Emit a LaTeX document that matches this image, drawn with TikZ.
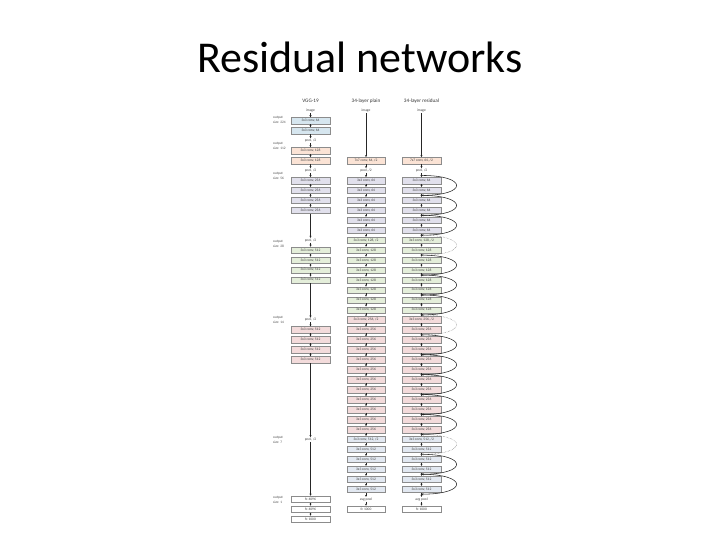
\documentclass[tikz,border=0pt]{standalone}
\usepackage{fontspec}
\setmainfont{Carlito}
\usetikzlibrary{calc, arrows.meta}
\definecolor{convBlue}{RGB}{214,230,239}
\definecolor{convPeach}{RGB}{251,227,213}
\definecolor{convLav}{RGB}{225,224,236}
\definecolor{convGreen}{RGB}{228,238,218}
\definecolor{convPink}{RGB}{243,219,219}
\definecolor{convSky}{RGB}{226,232,241}
\newcommand{\ry}[1]{110.7+9.96*(#1)}

\begin{document}
\begin{tikzpicture}[
  x=1pt, y=-1pt,
  >={Stealth[length=2pt,width=2pt]},
  layer/.style={draw=black!45, line width=0.3pt, minimum width=38.5pt, minimum height=6.5pt,
    inner sep=0pt, font=\fontsize{3.6}{4}\selectfont, text=black!75},
  lbl/.style={inner sep=0.6pt, font=\fontsize{3.6}{4}\selectfont, text=black!75},
  outsize/.style={anchor=west, align=left, inner sep=0pt, font=\fontsize{3.5}{4.3}\selectfont, text=black!70},
  head/.style={font=\fontsize{5.2}{6}\selectfont, text=black!80},
  flow/.style={->, line width=0.6pt, black!85},
  skip/.style={->, line width=0.55pt, black!85},
  skipdim/.style={->, line width=0.45pt, black!60, densely dotted}
]
\useasboundingbox (0,0) rectangle (720,540);
\node[font=\fontsize{44}{50}\selectfont] (title) at (360,57) {Residual networks};

% column heads
\node[head] (hv) at (310.5,101) {VGG-19};
\node[head] (hp) at (366,101) {34-layer plain};
\node[head] (hr) at (421.5,101) {34-layer residual};

% output sizes
\node[outsize] (s224) at (273,120) {output\\size: 224};
\node[outsize] (s112) at (273,146) {output\\size: 112};
\node[outsize] (s56) at (273,176) {output\\size: 56};
\node[outsize] (s28) at (273,244) {output\\size: 28};
\node[outsize] (s14) at (273,320) {output\\size: 14};
\node[outsize] (s7) at (273,440) {output\\size: 7};
\node[outsize] (s1) at (273,500) {output\\size: 1};

% VGG-19
\node[lbl] (v0) at (310.5,{\ry{0}}) {image};
\foreach \i in {1,2} \node[layer, fill=convBlue] (v\i) at (310.5,{\ry{\i}}) {3x3 conv, 64};
\node[lbl] (v3) at (310.5,{\ry{3}}) {pool, /2};
\foreach \i in {4,5} \node[layer, fill=convPeach] (v\i) at (310.5,{\ry{\i}}) {3x3 conv, 128};
\node[lbl] (v6) at (310.5,{\ry{6}}) {pool, /2};
\foreach \i in {7,...,10} \node[layer, fill=convLav] (v\i) at (310.5,{\ry{\i}}) {3x3 conv, 256};
\node[lbl] (v13) at (310.5,{\ry{13}}) {pool, /2};
\foreach \i in {14,...,17} \node[layer, fill=convGreen] (v\i) at (310.5,{\ry{\i}}) {3x3 conv, 512};
\node[lbl] (v21) at (310.5,{\ry{21}}) {pool, /2};
\foreach \i in {22,...,25} \node[layer, fill=convPink] (v\i) at (310.5,{\ry{\i}}) {3x3 conv, 512};
\node[lbl] (v33) at (310.5,{\ry{33}}) {pool, /2};
\foreach \i in {39,40} \node[layer, fill=white] (v\i) at (310.5,{\ry{\i}}) {fc 4096};
\node[layer, fill=white] (v41) at (310.5,{\ry{41}}) {fc 1000};
\foreach \a/\b in {0/1,1/2,2/3,3/4,4/5,5/6,6/7,7/8,8/9,9/10,10/13,13/14,14/15,15/16,16/17,
    17/21,21/22,22/23,23/24,24/25,25/33,33/39,39/40,40/41}
  \draw[flow] (v\a) -- (v\b);

% 34-layer plain and residual
\foreach \col/\x in {p/366, r/421.5}{
  \node[lbl] (\col0) at (\x,{\ry{0}}) {image};
  \node[layer, fill=convPeach] (\col5) at (\x,{\ry{5}}) {7x7 conv, 64, /2};
  \node[lbl] (\col6) at (\x,{\ry{6}}) {pool, /2};
  \foreach \i in {7,...,12} \node[layer, fill=convLav] (\col\i) at (\x,{\ry{\i}}) {3x3 conv, 64};
  \node[layer, fill=convGreen] (\col13) at (\x,{\ry{13}}) {3x3 conv, 128, /2};
  \foreach \i in {14,...,20} \node[layer, fill=convGreen] (\col\i) at (\x,{\ry{\i}}) {3x3 conv, 128};
  \node[layer, fill=convPink] (\col21) at (\x,{\ry{21}}) {3x3 conv, 256, /2};
  \foreach \i in {22,...,32} \node[layer, fill=convPink] (\col\i) at (\x,{\ry{\i}}) {3x3 conv, 256};
  \node[layer, fill=convSky] (\col33) at (\x,{\ry{33}}) {3x3 conv, 512, /2};
  \foreach \i in {34,...,38} \node[layer, fill=convSky] (\col\i) at (\x,{\ry{\i}}) {3x3 conv, 512};
  \node[lbl] (\col39) at (\x,{\ry{39}}) {avg pool};
  \node[layer, fill=white] (\col40) at (\x,{\ry{40}}) {fc 1000};
  \draw[flow] (\col0) -- (\col5);
  \foreach \i [evaluate=\i as \j using int(\i+1)] in {5,...,39}
    \draw[flow] (\col\i) -- (\col\j);
}

% shortcuts
\foreach \i [evaluate=\i as \j using int(\i+1)] in {6,...,38}
  \coordinate (g\i) at ($(r\i)!0.5!(r\j)$);
\foreach \s [evaluate=\s as \a using int(\s-1), evaluate=\s as \b using int(\s+1)]
    in {7,9,11,15,17,19,23,25,27,29,31,35,37}
  \draw[skip] (g\a) to[out=0, in=0, looseness=6] (g\b);
\foreach \s [evaluate=\s as \a using int(\s-1), evaluate=\s as \b using int(\s+1)] in {13,21,33}
  \draw[skipdim] (g\a) to[out=0, in=0, looseness=6] (g\b);
\end{tikzpicture}
\end{document}
